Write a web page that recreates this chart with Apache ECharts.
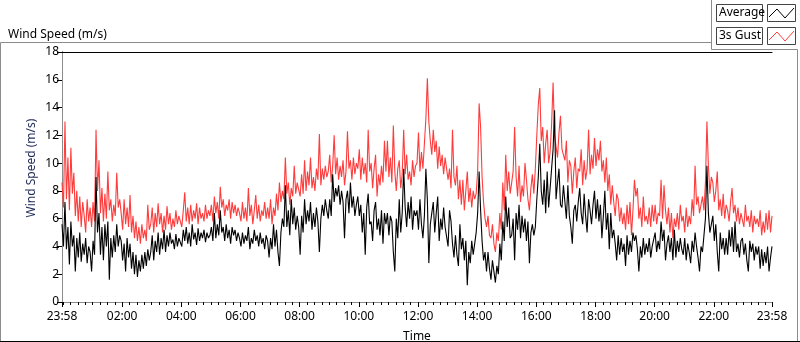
<!DOCTYPE html>
<html>
<head>
<meta charset="utf-8">
<script src="https://cdn.jsdelivr.net/npm/echarts@6/dist/echarts.min.js"></script>
<style>
  html, body { margin: 0; padding: 0; background: #ffffff; }
  #chart { width: 800px; height: 342px; }
</style>
</head>
<body>
<div id="chart"></div>
<script>
// time axis: minutes since 23:58, one sample every 3 minutes
const stepMinutes = 3;
const tickLabels = ['23:58', '02:00', '04:00', '06:00', '08:00', '10:00', '12:00',
                    '14:00', '16:00', '18:00', '20:00', '22:00', '23:58'];
const tickMinutes = [0, 122, 242, 362, 482, 602, 722, 842, 962, 1082, 1202, 1322, 1440];

// 3s gust (red), one row per hour
const gust = [
  8.6, 6.8, 13.0, 7.4, 10.4, 6.6, 11.1, 7.8, 9.3, 6.2, 8.0, 5.8, 7.6, 5.4, 7.2, 6.2, 5.0, 7.4, 5.8, 6.8,
  5.4, 7.2, 5.8, 12.4, 8.0, 10.2, 6.4, 8.2, 5.8, 7.8, 6.0, 9.4, 6.6, 7.4, 5.8, 7.0, 6.2, 9.3, 6.8, 7.4,
  6.4, 5.2, 7.4, 5.6, 6.8, 5.4, 7.7, 5.0, 6.2, 4.6, 5.8, 4.4, 5.4, 4.2, 5.6, 4.6, 5.2, 4.4, 7.0, 5.2,
  5.6, 6.8, 5.0, 6.4, 5.4, 7.1, 5.6, 6.4, 5.0, 6.2, 5.2, 6.9, 5.6, 6.4, 5.2, 6.0, 5.4, 6.6, 5.6, 6.2,
  6.2, 5.4, 6.6, 7.9, 5.8, 6.8, 5.6, 7.0, 5.8, 6.6, 6.0, 7.1, 5.6, 6.8, 6.0, 6.4, 5.8, 7.0, 6.0, 6.6,
  6.2, 7.0, 5.8, 7.6, 6.4, 7.2, 6.0, 8.3, 6.8, 7.4, 6.2, 7.0, 6.6, 7.4, 6.0, 7.2, 6.4, 7.0, 6.2, 6.8,
  6.4, 5.8, 7.2, 6.0, 6.8, 5.8, 8.2, 6.2, 7.0, 5.6, 6.6, 7.7, 6.0, 7.0, 5.8, 6.6, 6.2, 7.2, 6.0, 6.8,
  6.0, 7.4, 5.6, 6.8, 6.2, 7.8, 6.6, 8.6, 7.2, 8.0, 7.4, 10.4, 7.8, 8.6, 7.0, 8.2, 7.6, 9.8, 7.8, 8.6,
  8.6, 7.6, 9.2, 7.8, 10.2, 8.0, 9.4, 8.4, 10.4, 8.2, 9.0, 8.0, 9.6, 8.8, 12.1, 8.4, 9.6, 8.8, 9.8, 9.0,
  9.4, 10.6, 8.6, 9.8, 12.0, 9.2, 10.4, 8.8, 9.8, 9.0, 10.2, 8.4, 9.4, 12.3, 9.6, 10.2, 8.8, 10.4, 9.2, 10.0,
  9.6, 11.0, 8.8, 10.4, 9.2, 10.0, 8.6, 12.4, 9.4, 10.0, 8.2, 9.6, 10.6, 7.6, 9.2, 8.4, 9.8, 8.6, 11.6, 9.4,
  11.6, 9.0, 10.4, 8.6, 12.7, 9.4, 8.0, 9.6, 10.2, 8.2, 9.2, 12.4, 9.2, 10.6, 8.8, 9.4, 8.4, 10.2, 9.0, 9.8,
  10.0, 12.2, 9.4, 10.8, 9.6, 11.4, 13.2, 16.1, 13.0, 11.6, 10.6, 12.4, 10.8, 11.6, 9.6, 11.2, 9.8, 10.6, 9.2, 10.4,
  10.4, 8.8, 9.6, 8.2, 12.4, 9.0, 8.4, 9.8, 7.4, 8.8, 7.0, 8.8, 6.6, 8.0, 9.4, 7.2, 8.2, 6.8, 8.0, 7.4,
  7.8, 9.4, 14.3, 12.6, 9.0, 7.2, 6.0, 5.4, 6.2, 4.8, 4.6, 5.6, 4.2, 3.6, 5.0, 4.4, 6.4, 5.2, 8.6, 6.6,
  10.6, 8.0, 9.4, 7.8, 8.6, 9.4, 12.6, 9.0, 7.6, 9.8, 7.2, 8.4, 7.6, 10.0, 8.8, 7.4, 6.6, 8.2, 9.2, 7.8,
  9.6, 12.0, 14.2, 15.4, 11.6, 12.6, 10.0, 11.4, 12.4, 10.0, 10.8, 12.8, 15.8, 12.0, 11.2, 10.4, 12.2, 13.4, 11.0, 10.6,
  10.2, 11.6, 8.6, 10.2, 9.8, 7.8, 9.4, 10.4, 8.2, 9.6, 9.4, 11.0, 8.4, 10.2, 8.8, 9.6, 12.4, 9.2, 10.6, 9.6,
  11.8, 9.8, 11.0, 10.2, 11.6, 9.4, 10.2, 8.6, 10.4, 8.0, 9.2, 7.0, 8.4, 7.2, 6.2, 7.8, 7.4, 5.8, 6.8, 5.6,
  6.4, 5.2, 7.0, 5.6, 7.2, 4.8, 6.6, 8.8, 7.6, 8.2, 6.0, 6.8, 5.4, 7.6, 5.8, 6.2, 5.6, 6.8, 5.4, 7.0,
  5.8, 7.0, 5.6, 6.4, 6.2, 8.8, 6.0, 8.4, 6.6, 5.6, 6.8, 5.0, 6.4, 4.6, 6.0, 5.4, 6.4, 5.2, 7.0, 5.8,
  6.2, 5.0, 6.8, 5.4, 6.2, 5.6, 7.4, 6.2, 9.8, 7.0, 7.6, 6.4, 7.0, 7.6, 6.6, 8.6, 13.0, 9.8, 7.8, 9.0,
  8.6, 7.2, 8.0, 9.4, 6.6, 7.4, 6.2, 7.8, 6.0, 7.0, 6.6, 5.8, 7.2, 8.2, 6.4, 7.0, 5.8, 6.8, 5.6, 6.4,
  6.4, 5.4, 7.0, 5.8, 6.2, 5.4, 6.6, 5.0, 6.2, 5.6, 6.0, 5.4, 6.6, 4.8, 5.8, 5.0, 6.4, 5.2, 6.6, 5.0,
  6.2
];

// average (black), one row per hour
const average = [
  5.6, 4.0, 7.2, 3.8, 5.4, 2.7, 5.8, 4.0, 4.8, 2.2, 4.6, 3.2, 5.0, 2.9, 4.2, 3.4, 4.6, 2.8, 4.0, 3.6,
  2.2, 4.4, 3.4, 9.0, 5.0, 6.4, 3.4, 5.4, 3.0, 5.6, 4.0, 5.8, 1.6, 4.6, 3.2, 4.8, 3.6, 5.6, 4.0, 4.8,
  4.4, 3.0, 4.2, 2.2, 4.6, 3.2, 4.2, 2.4, 3.6, 2.0, 3.4, 1.8, 3.0, 2.2, 3.4, 2.4, 3.6, 2.6, 3.8, 3.0,
  3.6, 4.8, 3.0, 4.4, 3.6, 5.0, 3.4, 4.6, 3.8, 5.2, 3.6, 4.8, 4.0, 5.0, 4.2, 4.5, 3.8, 4.9, 4.0, 4.6,
  4.6, 4.0, 5.2, 4.4, 5.4, 4.2, 5.0, 4.0, 5.6, 4.5, 5.0, 4.1, 5.3, 4.4, 5.0, 4.6, 5.2, 4.3, 5.0, 4.6,
  4.8, 5.4, 4.4, 6.4, 4.6, 5.6, 4.8, 6.6, 5.0, 5.4, 4.4, 5.6, 4.6, 5.2, 4.2, 5.4, 4.8, 5.2, 4.4, 5.0,
  4.6, 4.0, 5.0, 4.2, 4.8, 4.4, 5.4, 3.8, 4.6, 4.2, 5.2, 4.4, 4.8, 4.0, 5.0, 4.2, 4.6, 3.8, 4.8, 4.4,
  3.2, 4.6, 3.8, 5.6, 4.0, 5.2, 3.6, 2.6, 5.0, 6.0, 5.4, 8.4, 5.4, 6.6, 4.8, 7.4, 5.6, 6.8, 5.2, 6.2,
  5.4, 3.4, 6.2, 5.0, 7.4, 5.6, 6.6, 5.8, 7.2, 5.2, 6.4, 5.4, 6.8, 5.8, 3.6, 6.0, 7.0, 6.2, 7.4, 6.6,
  6.0, 7.4, 6.2, 9.2, 7.2, 8.2, 7.6, 8.4, 7.0, 8.0, 7.2, 4.6, 7.4, 8.0, 6.4, 8.6, 6.8, 7.6, 6.2, 7.0,
  7.6, 6.2, 7.0, 5.0, 6.4, 3.4, 6.8, 7.8, 5.6, 5.8, 4.4, 6.6, 7.2, 5.2, 6.0, 4.8, 6.6, 4.2, 6.4, 5.6,
  6.4, 4.8, 6.2, 5.8, 3.6, 2.2, 6.0, 4.6, 7.4, 5.0, 6.4, 9.6, 6.8, 5.4, 7.2, 6.0, 7.6, 5.2, 6.6, 6.2,
  6.6, 5.2, 7.4, 5.6, 4.6, 6.2, 9.6, 7.4, 2.8, 5.6, 6.4, 7.2, 5.0, 6.4, 7.6, 4.4, 6.0, 5.2, 6.8, 5.4,
  5.4, 4.0, 6.6, 5.8, 4.2, 3.2, 4.8, 3.4, 2.6, 5.6, 3.8, 4.6, 3.0, 4.4, 1.2, 3.6, 2.8, 4.4, 3.4, 4.2,
  5.0, 6.4, 9.4, 6.6, 4.4, 3.0, 3.6, 2.2, 3.6, 2.4, 1.6, 3.0, 2.2, 1.4, 2.6, 2.0, 4.2, 3.0, 5.8, 4.4,
  7.6, 5.4, 6.8, 4.6, 4.8, 6.0, 3.0, 6.4, 5.2, 7.0, 4.6, 6.2, 5.0, 6.0, 4.4, 5.8, 2.8, 5.0, 5.6, 4.8,
  5.4, 7.4, 9.0, 11.4, 8.0, 7.0, 8.8, 6.4, 9.4, 6.8, 8.2, 9.6, 11.0, 13.8, 7.4, 8.6, 9.6, 7.0, 6.8, 8.4,
  7.2, 6.0, 8.4, 6.2, 5.4, 4.2, 6.6, 7.0, 5.8, 7.2, 8.2, 6.4, 5.6, 7.8, 6.2, 5.0, 7.4, 6.6, 5.6, 7.0,
  8.0, 6.0, 7.4, 5.8, 7.0, 4.6, 6.2, 8.0, 5.2, 6.4, 3.8, 6.4, 4.6, 5.2, 4.2, 3.0, 4.8, 3.4, 4.6, 3.6,
  4.2, 2.6, 4.8, 3.4, 4.4, 3.6, 5.0, 4.4, 4.8, 3.8, 2.2, 4.0, 3.2, 4.6, 3.4, 4.2, 3.6, 4.6, 3.2, 4.0,
  4.0, 5.0, 3.6, 4.4, 3.8, 5.8, 4.4, 5.2, 3.0, 4.2, 4.8, 3.6, 4.6, 3.0, 5.2, 3.2, 4.4, 3.6, 4.6, 3.8,
  3.4, 4.6, 3.0, 4.2, 3.6, 2.8, 4.4, 3.6, 5.0, 4.0, 3.2, 2.2, 4.0, 3.6, 4.8, 6.0, 9.8, 6.4, 5.0, 5.6,
  6.2, 4.4, 5.6, 3.6, 2.2, 5.0, 3.8, 4.6, 3.4, 4.6, 3.4, 5.2, 4.0, 5.4, 3.6, 5.8, 3.6, 4.2, 3.2, 4.4,
  4.6, 3.4, 4.2, 3.0, 2.2, 4.4, 3.6, 4.2, 3.0, 4.0, 3.4, 4.0, 2.4, 3.8, 2.6, 3.6, 2.8, 4.0, 2.2, 3.2,
  4.0
];

const toPairs = arr => arr.map((v, i) => [i * stepMinutes, v]);

// minor ticks every 15 min, aligned to the clock (00:00 is 2 min in)
const minorTicks = [];
for (let m = 2; m < 1440; m += 15) minorTicks.push(m);

const font = 'Noto Sans';
const chart = echarts.init(document.getElementById('chart'), null, { renderer: 'canvas' });

const option = {
  backgroundColor: '#ffffff',
  animation: false,
  textStyle: { fontFamily: font },
  grid: { left: 62, right: 28, top: 52, bottom: 40, outerBoundsMode: 'none', containLabel: false },
  xAxis: [
    {
      type: 'value', min: 0, max: 1440, position: 'bottom',
      name: 'Time', nameLocation: 'middle', nameGap: 29,
      nameTextStyle: { color: '#000', fontSize: 12, fontFamily: font },
      axisLine: { show: true, lineStyle: { color: '#8c8c8c', width: 1 } },
      axisTick: { show: true, length: 5, customValues: tickMinutes, lineStyle: { color: '#000' } },
      axisLabel: {
        show: true, customValues: tickMinutes, margin: 9,
        color: '#000', fontSize: 12, fontFamily: font,
        formatter: v => tickLabels[tickMinutes.indexOf(v)]
      },
      splitLine: { show: false }
    },
    {
      type: 'value', min: 0, max: 1440, position: 'bottom',
      axisLine: { show: false },
      axisTick: { show: true, length: 3, customValues: minorTicks, lineStyle: { color: '#000' } },
      axisLabel: { show: false },
      splitLine: { show: false }
    },
    {
      type: 'value', min: 0, max: 1440, position: 'top',
      axisLine: { show: true, lineStyle: { color: '#000', width: 1 } },
      axisTick: { show: false }, axisLabel: { show: false }, splitLine: { show: false }
    }
  ],
  yAxis: [
    {
      type: 'value', min: 0, max: 18, interval: 2, position: 'left',
      axisLine: { show: true, lineStyle: { color: '#000', width: 1 } },
      axisTick: { show: true, length: 5, lineStyle: { color: '#000' } },
      axisLabel: { color: '#000', fontSize: 12, fontFamily: font, margin: 3 },
      splitLine: { show: false }
    },
    {
      type: 'value', min: 0, max: 18, position: 'right',
      axisLine: { show: true, lineStyle: { color: '#8c8c8c', width: 1 } },
      axisTick: { show: false }, axisLabel: { show: false }, splitLine: { show: false }
    }
  ],
  title: {
    text: 'Wind Speed (m/s)', left: 3, top: 24,
    textStyle: { fontSize: 12, fontWeight: 'normal', color: '#000', fontFamily: font }
  },
  series: [
    {
      name: '3s Gust', type: 'line', xAxisIndex: 0, yAxisIndex: 0,
      data: toPairs(gust), showSymbol: false, symbol: 'none',
      lineStyle: { color: '#ff3c3c', width: 1.1 }, z: 2
    },
    {
      name: 'Average', type: 'line', xAxisIndex: 0, yAxisIndex: 0,
      data: toPairs(average), showSymbol: false, symbol: 'none',
      lineStyle: { color: '#000000', width: 1.1 }, z: 3
    }
  ],
  graphic: [
    // outer frame
    { type: 'polyline', shape: { points: [[0.5, 341], [0.5, 42.5], [711.5, 42.5]] },
      style: { stroke: '#8c8c8c', lineWidth: 1, fill: null } },
    { type: 'polyline', shape: { points: [[711.5, 0], [711.5, 49.5], [797.5, 49.5], [797.5, 341]] },
      style: { stroke: '#8c8c8c', lineWidth: 1, fill: null } },
    { type: 'line', shape: { x1: 0, y1: 341.5, x2: 800, y2: 341.5 },
      style: { stroke: '#000', lineWidth: 1 } },
    // y axis name
    { type: 'text', x: 32, y: 168, rotation: Math.PI / 2,
      style: { text: 'Wind Speed (m/s)', fill: '#1e2a58', font: '12px "Noto Sans"',
               textAlign: 'center', textVerticalAlign: 'middle' } },
    // legend
    { type: 'rect', shape: { x: 716.5, y: 4.5, width: 46, height: 17 },
      style: { fill: '#fff', stroke: '#444', lineWidth: 1 } },
    { type: 'text', x: 719, y: 13,
      style: { text: 'Average', fill: '#000', font: '12px "Noto Sans"', textVerticalAlign: 'middle' } },
    { type: 'rect', shape: { x: 767.5, y: 4.5, width: 28, height: 17 },
      style: { fill: '#fff', stroke: '#444', lineWidth: 1 } },
    { type: 'polyline', shape: { points: [[769, 17], [777, 9], [785, 18], [794, 8]] },
      style: { stroke: '#000', lineWidth: 1, fill: null } },
    { type: 'rect', shape: { x: 716.5, y: 27.5, width: 46, height: 17 },
      style: { fill: '#fff', stroke: '#444', lineWidth: 1 } },
    { type: 'text', x: 719, y: 36,
      style: { text: '3s Gust', fill: '#000', font: '12px "Noto Sans"', textVerticalAlign: 'middle' } },
    { type: 'rect', shape: { x: 767.5, y: 27.5, width: 28, height: 17 },
      style: { fill: '#fff', stroke: '#444', lineWidth: 1 } },
    { type: 'polyline', shape: { points: [[769, 40], [777, 32], [785, 41], [794, 31]] },
      style: { stroke: '#ff3c3c', lineWidth: 1, fill: null } }
  ]
};

chart.setOption(option);
</script>
</body>
</html>
